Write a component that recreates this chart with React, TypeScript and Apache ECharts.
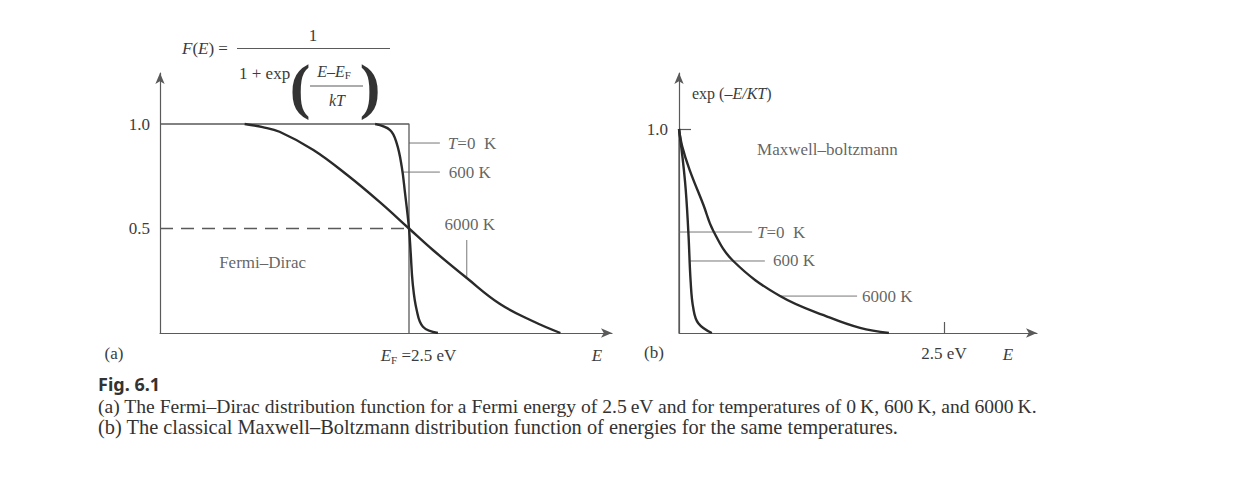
import React, { useEffect, useRef } from "react";
import * as echarts from "echarts";

// ---------- data ----------
// Panel (a): Fermi–Dirac, E in eV, F(E)
const fd0K: [number, number][] = [[0, 1], [2.5, 1], [2.5, 0]];
const fd600K: [number, number][] = [
  [2.16, 1], [2.31, 0.971], [2.376, 0.908], [2.427, 0.796], [2.46, 0.67],
  [2.5, 0.5], [2.517, 0.383], [2.537, 0.239], [2.577, 0.11], [2.64, 0.03], [2.79, 0],
];
const fd6000K: [number, number][] = [
  [0.85, 1], [1.03, 0.985], [1.2, 0.963], [1.54, 0.876], [1.88, 0.756], [2.21, 0.625],
  [2.5, 0.5], [2.74, 0.397], [3.08, 0.263], [3.41, 0.14], [3.75, 0.055], [4.02, 0],
];
const fdHalf: [number, number][] = [[0, 0.5], [2.5, 0.5]];

// Panel (b): Maxwell–Boltzmann, E in eV, exp(-E/kT)
const mb0K: [number, number][] = [[0, 1], [0, 0]];
const mb600K: [number, number][] = [
  [0, 1], [0.057, 0.742], [0.088, 0.497], [0.11, 0.251], [0.135, 0.121], [0.182, 0.048], [0.31, 0],
];
const mb6000K: [number, number][] = [
  [0, 1], [0.03, 0.915], [0.1, 0.8], [0.229, 0.63], [0.324, 0.5], [0.512, 0.353],
  [0.953, 0.181], [1.425, 0.075], [1.708, 0.025], [1.98, 0],
];

// tick labels
const aYTicks = [0.5, 1];
const aXTicks = [2.5];
const bYTicks = [1];
const bXTicks = [2.5];

// leader lines (data coordinates)
const aLeaders: [number, number][][] = [
  [[2.5, 0.909], [2.81, 0.909]],
  [[2.43, 0.77], [2.81, 0.77]],
  [[3.08, 0.445], [3.08, 0.268]],
];
const bLeaders: [number, number][][] = [
  [[0, 0.495], [0.69, 0.495]],
  [[0.104, 0.353], [0.81, 0.353]],
  [[0.953, 0.181], [1.68, 0.181]],
];
// annotation texts: [x, y, text, anchor]
const aNotes: [number, number, string, string][] = [
  [2.89, 0.909, "{i|T}=0  K", "left"],
  [2.9, 0.77, "600 K", "left"],
  [3.11, 0.517, "6000 K", "center"],
  [1.03, 0.335, "Fermi–Dirac", "center"],
];
const bNotes: [number, number, string, string][] = [
  [0.736, 0.495, "{i|T}=0  K", "left"],
  [0.887, 0.353, "600 K", "left"],
  [1.726, 0.181, "6000 K", "left"],
  [1.4, 0.9, "Maxwell–boltzmann", "center"],
];

const SERIF = '"Liberation Serif", "Times New Roman", serif';
const TXT = "#3c3c3c";
const AX = "#5a5a5a";
const CURVE = "#2a2a2a";

export default function App() {
  const ref = useRef<HTMLDivElement>(null);
  useEffect(() => {
    if (!ref.current) return;
    const chart = echarts.init(ref.current, null, { renderer: "svg" });

    const rich = {
      i: { fontStyle: "italic", fontFamily: SERIF, fontSize: 17, color: TXT },
      s: { fontFamily: SERIF, fontSize: 11, color: TXT, padding: [8, 0, 0, 0] },
    };

    const axisLine = {
      show: true,
      symbol: ["none", "arrow"],
      symbolSize: [7, 11],
      lineStyle: { color: AX, width: 1.2 },
    };

    const curve = (data: [number, number][], grid: number, width = 2.4, color = CURVE, extra: any = {}, smooth: any = 0.4) => ({
      type: "line",
      xAxisIndex: grid,
      yAxisIndex: grid,
      data,
      symbol: "none",
      smooth,
      silent: true,
      lineStyle: { color, width, ...extra },
      z: 3,
    });

    const leaderSeries = (lines: [number, number][][], grid: number) =>
      lines.map((d) => ({
        type: "line",
        xAxisIndex: grid,
        yAxisIndex: grid,
        data: d,
        symbol: "none",
        silent: true,
        lineStyle: { color: "#777", width: 1 },
        z: 2,
      }));

    const noteSeries = (notes: [number, number, string, string][], grid: number) => ({
      type: "scatter",
      xAxisIndex: grid,
      yAxisIndex: grid,
      symbolSize: 0,
      silent: true,
      data: notes.map((n) => ({
        value: [n[0], n[1]],
        label: {
          show: true,
          position: n[3] === "left" ? "right" : "inside",
          distance: 0,
          formatter: n[2],
          fontFamily: SERIF,
          fontSize: 17,
          color: TXT,
          rich,
        },
      })),
    });

    const option: any = {
      animation: false,
      backgroundColor: "#ffffff",
      textStyle: { fontFamily: SERIF },
      grid: [
        { left: 160, top: 73, width: 452, height: 260 },
        { left: 679, top: 73, width: 358, height: 260 },
      ],
      xAxis: [
        {
          type: "value", gridIndex: 0, min: 0, max: 452 / 99.6,
          axisLine, splitLine: { show: false }, axisTick: { show: false },
          axisLabel: {
            customValues: aXTicks, margin: 13, padding: [0, 0, 0, 19],
            formatter: () => "{i|E}{s|F} =2.5 eV",
            fontFamily: SERIF, fontSize: 17, color: TXT, rich,
          },
        },
        {
          type: "value", gridIndex: 1, min: 0, max: 358 / 106,
          axisLine, splitLine: { show: false },
          axisTick: { show: true, inside: true, length: 11, customValues: bXTicks, lineStyle: { color: AX, width: 1.2 } },
          axisLabel: {
            customValues: bXTicks, margin: 12,
            formatter: (v: number) => `${v} eV`,
            fontFamily: SERIF, fontSize: 17, color: TXT,
          },
        },
      ],
      yAxis: [
        {
          type: "value", gridIndex: 0, min: 0, max: 260 / 209,
          axisLine, splitLine: { show: false }, axisTick: { show: false },
          axisLabel: {
            customValues: aYTicks, margin: 10,
            formatter: (v: number) => v.toFixed(1),
            fontFamily: SERIF, fontSize: 17, color: TXT,
          },
        },
        {
          type: "value", gridIndex: 1, min: 0, max: 260 / 204,
          axisLine, splitLine: { show: false },
          axisTick: { show: true, inside: true, length: 12, customValues: bYTicks, lineStyle: { color: AX, width: 1.2 } },
          axisLabel: {
            customValues: bYTicks, margin: 11,
            formatter: (v: number) => v.toFixed(1),
            fontFamily: SERIF, fontSize: 17, color: TXT,
          },
        },
      ],
      series: [
        curve(fd0K, 0, 1.3, AX, {}, false),
        curve(fdHalf, 0, 1.3, AX, { type: [13, 8] }, false),
        curve(fd600K, 0),
        curve(fd6000K, 0),
        ...leaderSeries(aLeaders, 0),
        noteSeries(aNotes, 0),
        curve(mb0K, 1, 1.3, AX, {}, false),
        curve(mb600K, 1),
        curve(mb6000K, 1),
        ...leaderSeries(bLeaders, 1),
        noteSeries(bNotes, 1),
      ],
      graphic: [
        // formula
        {
          type: "text", left: 182, top: 40,
          style: { text: "{i|F}({i|E}) =", font: `17px ${SERIF}`, fill: TXT, rich: { i: { fontStyle: "italic", fontSize: 17, fontFamily: SERIF, fill: TXT } } },
        },
        { type: "line", shape: { x1: 237, y1: 48.5, x2: 390, y2: 48.5 }, style: { stroke: AX, lineWidth: 1.1 } },
        { type: "text", x: 313, y: 35, style: { text: "1", font: `17px ${SERIF}`, fill: TXT, align: "center", verticalAlign: "middle" } },
        { type: "text", x: 239, y: 73, style: { text: "1 + exp", font: `17px ${SERIF}`, fill: TXT, align: "left", verticalAlign: "middle" } },
        { type: "text", x: 300, y: 86, style: { text: "(", font: `bold 62px ${SERIF}`, fill: "#333", align: "center", verticalAlign: "middle" } },
        { type: "text", x: 370, y: 86, style: { text: ")", font: `bold 62px ${SERIF}`, fill: "#333", align: "center", verticalAlign: "middle" } },
        {
          type: "text", x: 334, y: 71,
          style: {
            text: "{i|E}–{i|E}{s|F}", font: `16px ${SERIF}`, fill: TXT, align: "center", verticalAlign: "middle",
            rich: { i: { fontStyle: "italic", fontSize: 16, fontFamily: SERIF, fill: TXT }, s: { fontSize: 11, fontFamily: SERIF, fill: TXT, padding: [8, 0, 0, 0] } },
          },
        },
        { type: "line", shape: { x1: 310, y1: 86, x2: 363, y2: 86 }, style: { stroke: AX, lineWidth: 1.1 } },
        { type: "text", x: 337, y: 100, style: { text: "kT", font: `italic 16px ${SERIF}`, fill: TXT, align: "center", verticalAlign: "middle" } },
        // axis names / panel marks
        { type: "text", x: 597, y: 355, style: { text: "E", font: `italic 17px ${SERIF}`, fill: TXT, align: "center", verticalAlign: "middle" } },
        { type: "text", x: 114, y: 353, style: { text: "(a)", font: `17px ${SERIF}`, fill: TXT, align: "center", verticalAlign: "middle" } },
        { type: "text", x: 1008, y: 354, style: { text: "E", font: `italic 17px ${SERIF}`, fill: TXT, align: "center", verticalAlign: "middle" } },
        { type: "text", x: 654, y: 352, style: { text: "(b)", font: `17px ${SERIF}`, fill: TXT, align: "center", verticalAlign: "middle" } },
        {
          type: "text", x: 692, y: 93,
          style: { text: "exp (–{i|E/KT})", font: `16px ${SERIF}`, fill: TXT, align: "left", verticalAlign: "middle", rich: { i: { fontStyle: "italic", fontSize: 16, fontFamily: SERIF, fill: TXT } } },
        },
        // caption
        { type: "text", x: 98, y: 384, style: { text: "Fig. 6.1", font: `bold 18px "Noto Sans", sans-serif`, fill: "#333", align: "left", verticalAlign: "middle" } },
        {
          type: "text", x: 98, y: 406,
          style: { text: "(a) The Fermi–Dirac distribution function for a Fermi energy of 2.5\u2009eV and for temperatures of 0\u2009K, 600\u2009K, and 6000\u2009K.", font: `19.6px ${SERIF}`, fill: "#333", align: "left", verticalAlign: "middle" },
        },
        {
          type: "text", x: 98, y: 427,
          style: { text: "(b) The classical Maxwell–Boltzmann distribution function of energies for the same temperatures.", font: `20.4px ${SERIF}`, fill: "#333", align: "left", verticalAlign: "middle" },
        },
      ],
    };
    chart.setOption(option);
    return () => chart.dispose();
  }, []);
  return <div ref={ref} style={{ position: "absolute", left: 0, top: 0, width: 1255, height: 486, background: "#fff" }} />;
}
